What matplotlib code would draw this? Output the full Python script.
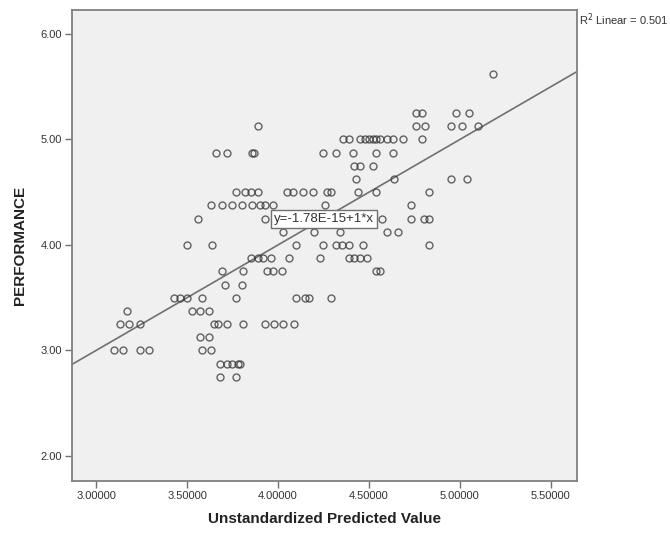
"""
Scatter of PERFORMANCE against the unstandardized predicted value (SPSS style).
"""

import matplotlib
import numpy as np

matplotlib.use("Agg")  # headless
import matplotlib.pyplot as plt

plt.rcParams["font.family"] = ["Liberation Sans", "DejaVu Sans"]

# performance levels (rows) and the predicted values observed on each row
levels = [5.625, 5.25, 5.125, 5.0, 4.875, 4.75, 4.625, 4.5, 4.375, 4.25, 4.125,
          4.0, 3.875, 3.75, 3.625, 3.5, 3.375, 3.25, 3.125, 3.0, 2.875, 2.75]
predicted_by_level = [
    [5.18],
    [4.76, 4.79, 4.98, 5.05],
    [3.89, 4.76, 4.81, 4.95, 5.01, 5.10],
    [4.36, 4.39, 4.45, 4.48, 4.50, 4.52, 4.54, 4.56, 4.60, 4.63, 4.69, 4.79],
    [3.66, 3.72, 3.86, 3.87, 4.25, 4.32, 4.41, 4.54, 4.63],
    [4.42, 4.45, 4.52],
    [4.43, 4.64, 4.95, 5.04],
    [3.77, 3.82, 3.85, 3.89, 4.05, 4.08, 4.14, 4.19, 4.27, 4.29, 4.44, 4.54, 4.83],
    [3.63, 3.69, 3.75, 3.80, 3.86, 3.90, 3.93, 3.97, 4.26, 4.73],
    [3.56, 3.93, 4.57, 4.73, 4.80, 4.83],
    [4.03, 4.20, 4.34, 4.60, 4.66],
    [3.50, 3.64, 4.10, 4.25, 4.32, 4.35, 4.39, 4.47, 4.83],
    [3.85, 3.89, 3.92, 3.96, 4.06, 4.23, 4.39, 4.42, 4.45, 4.49],
    [3.69, 3.81, 3.94, 3.97, 4.02, 4.54, 4.56],
    [3.71, 3.80],
    [3.43, 3.46, 3.50, 3.58, 3.77, 4.10, 4.15, 4.17, 4.29],
    [3.17, 3.53, 3.57, 3.62],
    [3.13, 3.18, 3.24, 3.65, 3.67, 3.72, 3.81, 3.93, 3.98, 4.03, 4.09],
    [3.57, 3.62],
    [3.10, 3.15, 3.24, 3.29, 3.58, 3.63],
    [3.68, 3.72, 3.75, 3.78, 3.79],
    [3.68, 3.77],
]

fit_intercept = -1.78e-15
fit_slope = 1.0
r_squared = 0.501

x_ticks = [3.0, 3.5, 4.0, 4.5, 5.0, 5.5]
y_ticks = [2.0, 3.0, 4.0, 5.0, 6.0]

x = np.concatenate([np.array(v) for v in predicted_by_level])
y = np.concatenate([np.full(len(v), lv) for lv, v in zip(levels, predicted_by_level)])

fig = plt.figure(figsize=(6.7, 5.33), dpi=100)
ax = fig.add_axes([0.1075, 0.0976, 0.7535, 0.8836])
ax.set_facecolor("#f0f0f0")

xlim = (2.868, 5.643)
ylim = (1.763, 6.227)
ax.set_xlim(*xlim)
ax.set_ylim(*ylim)

ax.plot(x, y, linestyle="none", marker="o", markersize=5, markerfacecolor="none",
        markeredgecolor="#333333", markeredgewidth=1.0, alpha=0.75, zorder=3)

line_x = np.array(xlim)
ax.plot(line_x, fit_intercept + fit_slope * line_x, color="#707070", linewidth=1.2, zorder=2)

ax.text(4.253, 4.246, "y=-1.78E-15+1*x", ha="center", va="center", fontsize=9.5,
        color="#333333", zorder=4,
        bbox=dict(boxstyle="square,pad=0.25", facecolor="white", edgecolor="#707070",
                  linewidth=1.0))

fig.text(579 / 670, 1 - 20 / 533, f"R$^2$ Linear = {r_squared}", ha="left", va="center",
         fontsize=8, color="#333333")

ax.set_xticks(x_ticks)
ax.set_xticklabels([f"{t:.5f}" for t in x_ticks])
ax.set_yticks(y_ticks)
ax.set_yticklabels([f"{t:.2f}" for t in y_ticks])
ax.tick_params(axis="both", direction="out", length=5, width=1.0, color="#707070",
               labelsize=8, labelcolor="#333333", pad=2)

for side in ["top", "right", "bottom", "left"]:
    ax.spines[side].set_color("#808080")
    ax.spines[side].set_linewidth(1.3)

ax.set_xlabel("Unstandardized Predicted Value", fontsize=11, fontweight="bold",
              color="#222222", labelpad=8)
ax.set_ylabel("PERFORMANCE", fontsize=11, fontweight="bold", color="#222222", labelpad=10)

fig.savefig("out.png", dpi=100)
plt.close(fig)
